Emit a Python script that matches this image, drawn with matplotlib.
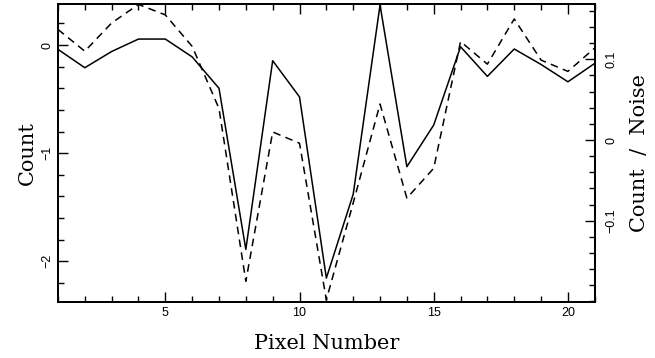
import matplotlib
matplotlib.use("Agg")
import matplotlib.pyplot as plt
from matplotlib.ticker import MultipleLocator, FixedLocator, FuncFormatter

# pixel index along the spectrum
pixels = list(range(1, 22))
# raw counts (left axis)
counts = [-0.04, -0.21, -0.06, 0.055, 0.055, -0.11, -0.40, -1.89, -0.145, -0.48,
          -2.155, -1.38, 0.37, -1.125, -0.74, -0.016, -0.29, -0.037, -0.18, -0.34, -0.17]
# counts divided by noise (right axis)
snr = [0.137, 0.110, 0.145, 0.168, 0.155, 0.116, 0.039, -0.175, 0.010, -0.004,
       -0.198, -0.078, 0.0446, -0.072, -0.035, 0.122, 0.094, 0.150, 0.099, 0.085, 0.114]
snr_ticks = [-0.1, 0.0, 0.1]

plt.rcParams["font.family"] = ["Liberation Sans", "DejaVu Sans"]


def fmt(v, pos):
    s = "%g" % round(v, 3)
    return s.replace("-", "\u2212")


fig = plt.figure(figsize=(6.55, 3.58), dpi=100)
ax = fig.add_axes([0.0885, 0.1564, 0.8195, 0.8324])

ax.plot(pixels, counts, color="black", lw=1.1)
ax.set_xlim(1, 21)
ax.set_ylim(-2.376, 0.379)
ax.xaxis.set_major_locator(MultipleLocator(5))
ax.xaxis.set_minor_locator(MultipleLocator(1))
ax.yaxis.set_major_locator(MultipleLocator(1))
ax.yaxis.set_minor_locator(MultipleLocator(0.2))
ax.yaxis.set_major_formatter(FuncFormatter(fmt))
ax.tick_params(which="both", direction="in", top=True, right=False,
               labelsize=9, width=1.0)
ax.tick_params(which="major", length=7)
ax.tick_params(which="minor", length=4)
for lab in ax.get_yticklabels():
    lab.set_rotation(90)
    lab.set_va("center")

ax2 = ax.twinx()
ax2.plot(pixels, snr, color="black", lw=1.1, dashes=(5, 3.5))
ax2.set_ylim(-0.2007, 0.1685)
ax2.yaxis.set_major_locator(FixedLocator(snr_ticks))
ax2.yaxis.set_minor_locator(MultipleLocator(0.02))
ax2.yaxis.set_major_formatter(FuncFormatter(fmt))
ax2.tick_params(which="both", direction="in", labelsize=9, width=1.0)
ax2.tick_params(which="major", length=7, pad=8)
ax2.tick_params(which="minor", length=4)
for lab in ax2.get_yticklabels():
    lab.set_rotation(90)
    lab.set_va("center")

for a in (ax, ax2):
    for s in a.spines.values():
        s.set_linewidth(1.3)

ax.set_xlabel("Pixel Number", family="DejaVu Serif", fontsize=15, labelpad=11)
ax.set_ylabel("Count", family="DejaVu Serif", fontsize=15, labelpad=3)
ax2.set_ylabel("Count  /  Noise", family="DejaVu Serif", fontsize=15, labelpad=9)

fig.savefig("out.png", dpi=100)
